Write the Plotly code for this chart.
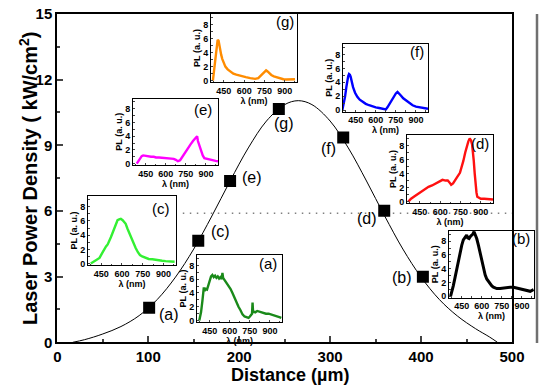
import plotly.graph_objects as go

W, H = 550, 385

# ---------------- main data ----------------
distance = [101, 155, 190, 243.6, 314.4, 359.5, 402]
density = [1.58, 4.64, 7.37, 10.66, 9.36, 6.01, 3.0]
point_labels = ["(a)", "(c)", "(e)", "(g)", "(f)", "(d)", "(b)"]

curve_x = [17, 30, 50, 70, 90, 110, 130, 150, 170, 190, 210, 230, 250, 265,
           280, 300, 320, 340, 360, 380, 400, 420, 440, 460, 475, 484]
curve_y = [0, 0.12, 0.38, 0.72, 1.22, 1.96, 2.98, 4.26, 5.77, 7.37, 8.88, 10.11,
           10.86, 11.04, 10.86, 10.11, 8.88, 7.37, 5.77, 4.26, 2.98, 1.96, 1.20,
           0.62, 0.25, 0]

threshold = 5.9
threshold_x = [138, 500]

x_ticks = [0, 100, 200, 300, 400, 500]
y_ticks = [0, 3, 6, 9, 12, 15]

# ---------------- inset spectra ----------------
wl_a = [372, 385, 395, 402, 406, 412, 420, 430, 440, 450, 460, 470, 480, 490, 500, 510, 520,
        530, 540, 545, 550, 560, 575, 590, 605, 620, 635, 650, 665, 680, 695, 710, 725, 740,
        750, 760, 766, 770, 774, 780, 790, 805, 820, 835, 850, 870, 890, 910, 930, 950, 970, 985]
pl_a = [0.0, 1.2, 2.8, 4.0, 4.8, 4.3, 4.6, 4.5, 5.2, 6.0, 6.4, 6.6, 6.3, 6.5, 6.2, 6.4, 6.1,
        6.3, 6.0, 6.9, 6.2, 5.9, 5.5, 5.0, 4.6, 4.0, 3.3, 2.6, 2.0, 1.5, 0.9, 0.6, 0.5, 0.4,
        0.6, 0.8, 1.0, 2.6, 1.2, 1.3, 1.2, 1.4, 1.3, 1.2, 1.1, 1.0, 1.0, 0.9, 0.7, 0.6, 0.5, 0.4]

wl_b = [367, 377, 387, 400, 412, 425, 437, 450, 462, 475, 487, 495, 505, 515, 525, 535, 542,
        550, 562, 575, 587, 600, 612, 625, 637, 650, 662, 675, 687, 712, 737, 762, 787, 812,
        837, 862, 887, 912, 937, 962, 987]
pl_b = [0.0, 0.6, 1.5, 2.7, 3.9, 5.1, 6.3, 7.4, 8.2, 8.6, 8.9, 8.5, 8.4, 8.7, 8.9, 9.1, 9.4,
        9.0, 8.4, 7.4, 6.3, 5.0, 3.9, 3.1, 2.5, 2.1, 1.8, 1.5, 1.3, 1.1, 1.1, 1.2, 1.3, 1.3,
        1.3, 1.2, 1.05, 1.0, 0.8, 0.7, 0.95]

wl_c = [375, 390, 405, 420, 438, 455, 470, 485, 497, 510, 520, 532, 545, 555, 568, 580, 592,
        605, 615, 627, 640, 650, 663, 675, 687, 699, 715, 730, 746, 770, 793, 820, 845, 864,
        890, 915, 940, 959, 980]
pl_c = [0.0, 0.2, 0.3, 0.5, 0.8, 1.4, 2.0, 2.4, 2.7, 3.2, 3.7, 4.3, 5.0, 5.6, 6.1, 6.2, 6.3,
        6.1, 5.9, 5.6, 4.9, 4.4, 3.8, 3.2, 2.7, 2.2, 1.6, 1.2, 1.0, 0.8, 0.65, 0.6, 0.5, 0.45,
        0.4, 0.35, 0.3, 0.2, 0.25]

wl_d = [365, 385, 411, 437, 463, 490, 514, 540, 566, 590, 617, 640, 656, 670, 681, 695, 707,
        725, 746, 760, 771, 785, 797, 808, 818, 828, 836, 843, 848, 855, 861, 868, 874, 887,
        900, 925, 951, 975, 990]
pl_d = [0.0, 0.4, 0.75, 1.1, 1.4, 1.8, 2.1, 2.3, 2.6, 2.8, 3.1, 3.0, 3.0, 2.7, 2.4, 2.6, 2.9,
        3.5, 4.1, 4.9, 5.8, 7.0, 8.1, 8.6, 9.0, 8.7, 8.1, 7.0, 5.8, 4.0, 2.4, 1.3, 0.7, 0.5,
        0.4, 0.4, 0.4, 0.35, 0.3]

wl_e = [383, 395, 407, 420, 431, 450, 467, 490, 510, 527, 550, 575, 599, 620, 640, 659, 675,
        690, 707, 720, 731, 750, 767, 785, 803, 815, 827, 834, 840, 852, 864, 876, 888, 905,
        924, 950, 972, 990]
pl_e = [0.0, 0.4, 0.8, 1.1, 1.2, 1.1, 1.1, 1.0, 1.0, 0.9, 0.9, 0.85, 0.8, 0.8, 0.75, 0.7, 0.55,
        0.35, 0.5, 0.9, 1.3, 1.8, 2.3, 2.8, 3.3, 3.6, 3.8, 4.0, 3.3, 2.5, 1.8, 1.2, 0.8, 0.7,
        0.6, 0.5, 0.4, 0.35]

wl_f = [350, 360, 370, 380, 387, 394, 400, 406, 412, 420, 430, 445, 462, 480, 500, 525, 550,
        575, 600, 625, 650, 675, 687, 700, 712, 725, 737, 750, 762, 775, 787, 805, 825, 850,
        875, 900, 925, 950, 975, 990]
pl_f = [0.0, 0.8, 1.9, 3.3, 4.3, 4.9, 5.2, 5.1, 4.8, 4.1, 3.3, 2.5, 1.9, 1.5, 1.2, 0.9, 0.7,
        0.5, 0.4, 0.3, 0.25, 0.1, 0.4, 0.8, 1.2, 1.7, 2.1, 2.4, 2.6, 2.4, 2.1, 1.7, 1.4, 1.0,
        0.7, 0.5, 0.4, 0.3, 0.15, 0.2]

wl_g = [369, 375, 381, 387, 392, 398, 404, 411, 416, 422, 430, 438, 450, 461, 478, 496, 520,
        542, 575, 612, 645, 681, 704, 715, 727, 740, 750, 762, 773, 785, 800, 819, 840, 866,
        890, 912, 935, 953, 975]
pl_g = [0.0, 1.0, 2.2, 3.0, 3.8, 4.8, 5.8, 5.7, 5.0, 4.3, 3.7, 3.1, 2.5, 2.0, 1.6, 1.3, 1.0,
        0.85, 0.65, 0.5, 0.35, 0.25, 0.35, 0.55, 0.8, 1.1, 1.3, 1.45, 1.3, 1.05, 0.8, 0.6, 0.45,
        0.3, 0.2, 0.15, 0.2, 0.25, 0.2]

inset_wl_ticks = [450, 600, 750, 900]
inset_pl_ticks = [0, 2, 4, 6, 8]

FONT = "Arial, Liberation Sans, sans-serif"


def px_x(p):
    return p / W


def px_y(p):
    return 1 - p / H


def label(text, cx, cy, size, bold=False, angle=0):
    f = dict(size=size, family=FONT, color="black")
    if bold:
        f["weight"] = "bold"
    return dict(x=px_x(cx), y=px_y(cy), xref="paper", yref="paper", text=text,
                xanchor="center", yanchor="middle", textangle=angle, showarrow=False, font=f)


fig = go.Figure()

# main curve
fig.add_trace(go.Scatter(x=curve_x, y=curve_y, mode="lines", line=dict(color="black", width=1, shape="spline"),
                         xaxis="x", yaxis="y", hoverinfo="skip", showlegend=False))
# dotted threshold line
fig.add_trace(go.Scatter(x=threshold_x, y=[threshold, threshold], mode="lines",
                         line=dict(color="#808080", width=1.5, dash="1.5px,5.5px"),
                         xaxis="x", yaxis="y", showlegend=False))
# squares
fig.add_trace(go.Scatter(x=distance, y=density, mode="markers",
                         marker=dict(symbol="square", size=12, color="black"),
                         xaxis="x", yaxis="y", showlegend=False))

main_x_dom = [px_x(57.3), px_x(512)]
main_y_dom = [px_y(342.3), px_y(14)]

layout = dict(
    width=W, height=H,
    margin=dict(l=0, r=0, t=0, b=0, pad=0, autoexpand=False),
    paper_bgcolor="white", plot_bgcolor="rgba(0,0,0,0)",
    font=dict(family=FONT, color="black"),
    showlegend=False,
    xaxis=dict(domain=main_x_dom, range=[0, 500], tickvals=x_ticks, ticks="inside", ticklen=6,
               tickwidth=1.5, minor=dict(dtick=50, ticks="inside", ticklen=3, tickwidth=1.5),
               showline=True, linewidth=2, linecolor="black", mirror=True, showgrid=False,
               zeroline=False, tickfont=dict(size=15, family=FONT, weight="bold"), anchor="y",
               automargin=False),
    yaxis=dict(domain=main_y_dom, range=[0, 15], tickvals=y_ticks, ticks="inside", ticklen=6,
               tickwidth=1.5, minor=dict(dtick=1.5, ticks="inside", ticklen=3, tickwidth=1.5),
               showline=True, linewidth=2, linecolor="black", mirror=True, showgrid=False,
               zeroline=False, tickfont=dict(size=15, family=FONT, weight="bold"), anchor="x",
               automargin=False),
)

annotations = [
    label("Laser Power Density ( kW/cm<sup>2</sup>)", 28, 179, 20, bold=True, angle=-90),
    label("Distance (µm)", 290, 375, 18, bold=True),
]

label_px = [(169, 314), (220, 231), (252, 177), (284, 123), (328, 148), (367, 218), (402, 277)]
for lab, (lx, ly) in zip(point_labels, label_px):
    annotations.append(label(lab, lx, ly, 16))

insets = [
    # name, wl, pl, color, left, right, top, bottom, letter centre
    ("(a)", wl_a, pl_a, "#1a8a1a", 197, 282, 255, 322, (268, 263)),
    ("(b)", wl_b, pl_b, "#000000", 449, 534, 231, 297.5, (521, 238)),
    ("(c)", wl_c, pl_c, "#33f033", 88, 176, 196, 265, (161, 209)),
    ("(d)", wl_d, pl_d, "#ff1010", 407, 493, 135, 203, (480, 143)),
    ("(e)", wl_e, pl_e, "#ff00ff", 133, 218, 98.5, 165, (203, 109)),
    ("(f)", wl_f, pl_f, "#0000ff", 343, 428, 44, 111.5, (417, 51.5)),
    ("(g)", wl_g, pl_g, "#ff8c00", 211, 297, 14, 82, (285, 21.5)),
]

shapes = [
    # grey frame edge visible at the right of the original figure
    dict(type="line", xref="paper", yref="paper", x0=px_x(537), x1=px_x(537),
         y0=px_y(343), y1=px_y(14), line=dict(color="#707070", width=2.5)),
]
for i, (name, wl, pl, col, l, r, t, b, (tx, ty)) in enumerate(insets):
    n = i + 2
    xa, ya = f"x{n}", f"y{n}"
    shapes.append(dict(type="rect", xref="paper", yref="paper", x0=px_x(l), x1=px_x(r),
                       y0=px_y(b), y1=px_y(t), fillcolor="white", line=dict(width=0), layer="below"))
    fig.add_trace(go.Scatter(x=wl, y=pl, mode="lines",
                             line=dict(color=col, width=3 if col == "#000000" else 2.4),
                             xaxis=xa, yaxis=ya, showlegend=False, hoverinfo="skip"))
    small = dict(size=9, family=FONT, weight="bold")
    layout[f"xaxis{n}"] = dict(domain=[px_x(l), px_x(r)], range=[355, 990], tickvals=inset_wl_ticks,
                               ticks="inside", ticklen=2, minor=dict(dtick=75, ticks="inside", ticklen=1.5),
                               showline=True, linewidth=1, linecolor="black", mirror=True, showgrid=False,
                               zeroline=False, tickfont=small, anchor=ya, automargin=False,
                               title=dict(text="λ (nm)", font=small, standoff=1))
    layout[f"yaxis{n}"] = dict(domain=[px_y(b), px_y(t)], range=[-0.2, 9.5], tickvals=inset_pl_ticks,
                               ticks="inside", ticklen=2, minor=dict(dtick=1, ticks="inside", ticklen=1.5),
                               showline=True, linewidth=1, linecolor="black", mirror=True, showgrid=False,
                               zeroline=False, tickfont=small, anchor=xa, automargin=False,
                               title=dict(text="PL (a. u.)", font=small, standoff=1))
    annotations.append(label(name, tx, ty, 15))

layout["annotations"] = annotations
layout["shapes"] = shapes
fig.update_layout(**layout)
fig.write_html("out.html", config={"displayModeBar": False},
               post_script="document.body.style.margin='0';document.body.style.padding='0';")
